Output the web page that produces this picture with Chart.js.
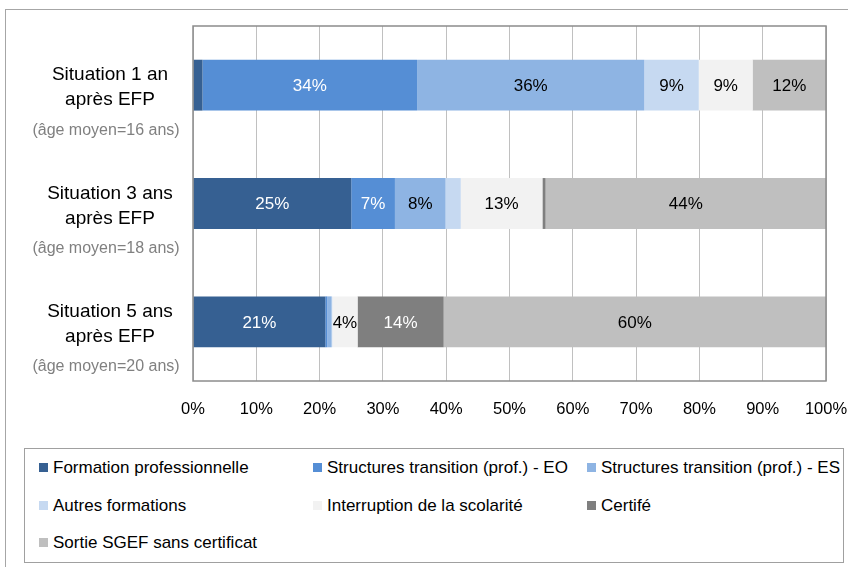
<!DOCTYPE html>
<html lang="fr">
<head>
<meta charset="utf-8">
<title>Situation après EFP</title>
<script src="https://cdn.jsdelivr.net/npm/chart.js@4.4.1/dist/chart.umd.min.js"></script>
<style>
  html, body { margin: 0; padding: 0; background: #fff; }
  #page { position: relative; width: 848px; height: 567px; overflow: hidden;
          font-family: 'Liberation Sans', Arial, sans-serif; }
  #frame { position: absolute; left: 5px; top: 9px; width: 900px; height: 600px;
           border-left: 1px solid #a6a6a6; border-top: 1px solid #a6a6a6; }
  #chartBox { position: absolute; left: 0; top: 0; width: 848px; height: 440px; }
  #legend { position: absolute; left: 24px; top: 448px; width: 820px; height: 115px;
            border: 1px solid #a0a0a0; box-sizing: border-box; }
  .item { position: absolute; font-size: 17px; line-height: 20px; color: #000; white-space: nowrap; }
  .item i { display: inline-block; width: 9px; height: 9px; margin-right: 5px; vertical-align: 1px; }
</style>
</head>
<body>
<div id="page">
  <div id="frame"></div>
  <div id="chartBox"><canvas id="chart"></canvas></div>
  <div id="legend"></div>
</div>
<script>
// ---- data ----
const categories = [
  ['Situation 1 an', 'après EFP'],
  ['Situation 3 ans', 'après EFP'],
  ['Situation 5 ans', 'après EFP']
];
const ageNotes = ['(âge moyen=16 ans)', '(âge moyen=18 ans)', '(âge moyen=20 ans)'];

const seriesNames = [
  'Formation professionnelle',
  'Structures transition (prof.) - EO',
  'Structures transition (prof.) - ES',
  'Autres formations',
  'Interruption de la scolarité',
  'Certifé',
  'Sortie SGEF sans certificat'
];
const formationPro   = [1.5, 25.0, 20.9];
const transitionEO   = [33.9, 6.9, 0.3];
const transitionES   = [35.9, 8.0, 0.7];
const autresForm     = [8.6, 2.4, 0.1];
const interruption   = [8.5, 12.9, 4.0];
const certifie       = [0, 0.5, 13.6];
const sortieSansCert = [11.6, 44.3, 60.4];

const xTicks = [0, 10, 20, 30, 40, 50, 60, 70, 80, 90, 100];

const seriesColors = ['#366092', '#558ed5', '#8eb4e3', '#c6d9f1', '#f2f2f2', '#7f7f7f', '#bfbfbf'];
const labelColors  = ['#fff', '#fff', '#000', '#000', '#000', '#fff', '#000'];
const FONT = "'Liberation Sans', Arial, sans-serif";

const seriesData = [formationPro, transitionEO, transitionES, autresForm, interruption, certifie, sortieSansCert];

// percentage labels centred in each segment (small ones skipped)
const segmentLabels = {
  id: 'segmentLabels',
  afterDatasetsDraw(chart) {
    const ctx = chart.ctx;
    ctx.save();
    ctx.font = '17px ' + FONT;
    ctx.textAlign = 'center';
    ctx.textBaseline = 'middle';
    chart.data.datasets.forEach((ds, d) => {
      chart.getDatasetMeta(d).data.forEach((bar, i) => {
        const v = ds.data[i];
        if (v < 3) return;
        ctx.fillStyle = labelColors[d];
        ctx.fillText(Math.round(v) + '%', (bar.x + bar.base) / 2, bar.y + 1);
      });
    });
    ctx.restore();
  }
};

// plot frame + category labels on the left
const frameAndLabels = {
  id: 'frameAndLabels',
  afterDraw(chart) {
    const { ctx, chartArea: a } = chart;
    const y = chart.scales.y;
    ctx.save();
    ctx.strokeStyle = '#8c8c8c';
    ctx.lineWidth = 1.5;
    ctx.strokeRect(a.left, a.top, a.right - a.left, a.bottom - a.top);

    ctx.textAlign = 'center';
    ctx.textBaseline = 'middle';
    categories.forEach((lines, i) => {
      const cy = y.getPixelForValue(i);
      ctx.fillStyle = '#000';
      ctx.font = '19px ' + FONT;
      ctx.fillText(lines[0], 110, cy - 10);
      ctx.fillText(lines[1], 110, cy + 15);
      ctx.fillStyle = '#808080';
      ctx.font = '16px ' + FONT;
      ctx.fillText(ageNotes[i], 106, cy + 45);
    });
    ctx.restore();
  }
};

const chart = new Chart(document.getElementById('chart'), {
  type: 'bar',
  data: {
    labels: categories.map(c => c.join(' ')),
    datasets: seriesNames.map((name, i) => ({
      label: name,
      data: seriesData[i],
      backgroundColor: seriesColors[i],
      borderWidth: 0,
      categoryPercentage: 1,
      barPercentage: 0.43
    }))
  },
  options: {
    indexAxis: 'y',
    responsive: true,
    maintainAspectRatio: false,
    animation: false,
    layout: { padding: { top: 26, right: 0, left: 0, bottom: 0 } },
    plugins: {
      legend: { display: false },
      tooltip: { enabled: false }
    },
    scales: {
      x: {
        stacked: true,
        min: 0,
        max: 100,
        afterBuildTicks: s => { s.ticks = xTicks.map(v => ({ value: v })); },
        afterFit: s => { s.height = 59; s.paddingRight = 22; },
        grid: { color: '#c0c0c0', lineWidth: 1, drawTicks: false },
        border: { display: false },
        ticks: {
          padding: 19,
          color: '#000',
          font: { family: FONT, size: 16.5 },
          callback: v => v + '%'
        }
      },
      y: {
        stacked: true,
        afterFit: s => { s.width = 193; },
        grid: { display: false },
        border: { display: false },
        ticks: { display: false }
      }
    }
  },
  plugins: [segmentLabels, frameAndLabels]
});

// legend laid out in three columns inside a box, built from the datasets
const legendCols = [14, 288, 562];
const legendRows = [9, 47, 84];
const legendEl = document.getElementById('legend');
chart.data.datasets.forEach((ds, i) => {
  const el = document.createElement('div');
  el.className = 'item';
  el.style.left = legendCols[i % 3] + 'px';
  el.style.top = legendRows[Math.floor(i / 3)] + 'px';
  el.innerHTML = '<i style="background:' + ds.backgroundColor + '"></i>';
  el.appendChild(document.createTextNode(ds.label));
  legendEl.appendChild(el);
});
</script>
</body>
</html>
